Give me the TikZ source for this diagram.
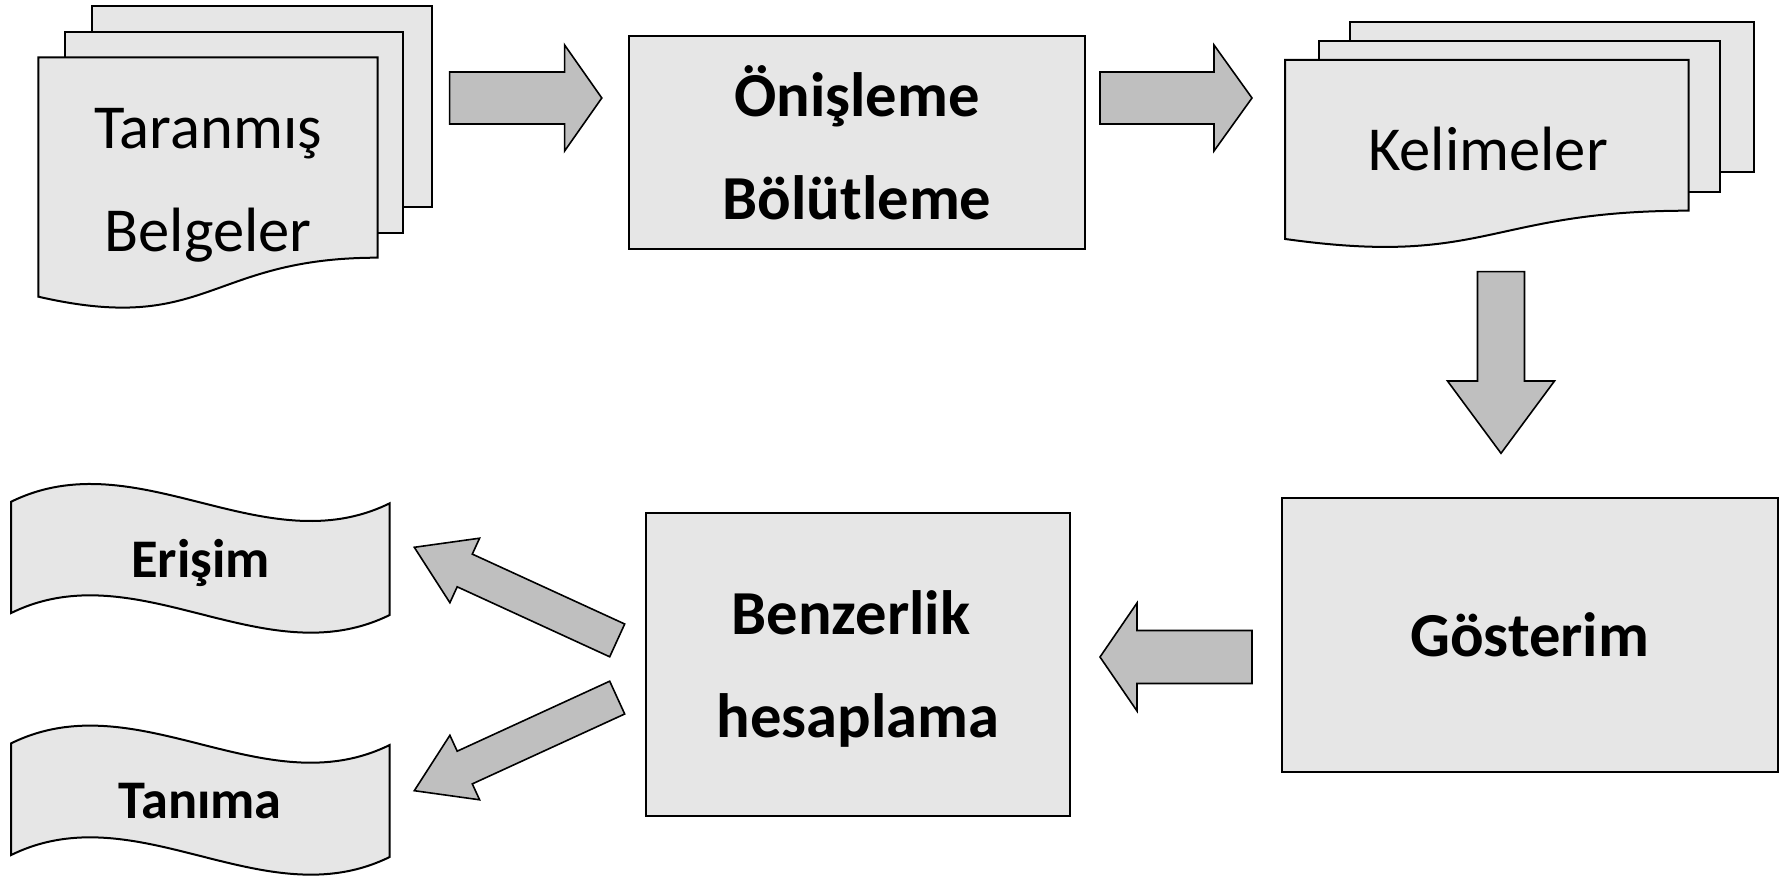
\documentclass[tikz,border=0pt]{standalone}
\usepackage{fontspec}
\setmainfont{Carlito}
\definecolor{boxgray}{RGB}{230,230,230}
\definecolor{arrowgray}{RGB}{191,191,191}
\newcommand{\bigreg}{\fontsize{31.3}{51.5}\selectfont}
\newcommand{\bigbold}{\fontsize{31.3}{51.5}\selectfont\bfseries}
\newcommand{\bannerbold}{\fontsize{27.2}{32}\selectfont\bfseries}
\tikzset{
  boxfill/.style={fill=boxgray, draw=black, line width=1pt, line join=miter},
  blockarrow/.style={fill=arrowgray, draw=black, line width=0.8pt, line join=miter},
  procbox/.style={boxfill, rectangle, inner sep=0pt, align=center, font=\bigbold},
  doctext/.style={inner sep=0pt, align=center, font=\bigreg},
  bannertext/.style={inner sep=0pt, align=center, font=\bannerbold},
}
\begin{document}
\begin{tikzpicture}[x=0.5pt, y=-0.5pt]
\useasboundingbox (0,0) rectangle (1785,876);

% ---- stack 1: Taranmis Belgeler
\draw[boxfill] (91.7,5.7) rectangle (431.8,207);
\draw[boxfill] (65.2,31.7) rectangle (403.3,232.7);
\draw[boxfill] (38.4,57.3) -- (377.6,57.3) -- (377.6,257.7)
  .. controls (208,257.7) and (208,335.7) .. (38.4,296.7) -- cycle;
\node[doctext] (scan) at (208,185) {Taranmış\\Belgeler};

% ---- arrow 1
\draw[blockarrow] (601.8,98) -- (564.6,45) -- (564.6,72) -- (449.6,72)
  -- (449.6,124) -- (564.6,124) -- (564.6,151) -- cycle;

% ---- box 1
\node[procbox, minimum width=227.55pt, minimum height=106.15pt] (pre) at (857,142.5) {Önişleme\\Bölütleme};

% ---- arrow 2
\draw[blockarrow] (1252,98) -- (1214,45) -- (1214,72) -- (1100,72)
  -- (1100,124) -- (1214,124) -- (1214,151) -- cycle;

% ---- stack 2: Kelimeler
\draw[boxfill] (1349.8,21.7) rectangle (1753.7,172.3);
\draw[boxfill] (1319.2,41) rectangle (1719.7,191.7);
\draw[boxfill] (1285.2,60) -- (1688.7,60) -- (1688.7,210.7)
  .. controls (1487,210.7) and (1487,267.3) .. (1285.2,239) -- cycle;
\node[doctext] (words) at (1488,149) {Kelimeler};

% ---- down arrow
\draw[blockarrow] (1501,453.3) -- (1554.5,381) -- (1524.5,381) -- (1524.5,271.7)
  -- (1477.5,271.7) -- (1477.5,381) -- (1447.5,381) -- cycle;

% ---- Gosterim box
\node[procbox, minimum width=248pt, minimum height=136.85pt] (rep) at (1529.7,635.15) {Gösterim};

% ---- left arrow
\draw[blockarrow] (1100,657) -- (1137,603) -- (1137,630.5) -- (1252,630.5)
  -- (1252,683.5) -- (1137,683.5) -- (1137,711) -- cycle;

% ---- Benzerlik box
\node[procbox, text depth=0pt, minimum width=212pt, minimum height=151.2pt] (sim) at (858,664.5) {Benzerlik\hspace*{7pt}\\hesaplama};

% ---- diagonal arrows
\draw[blockarrow] (414.3,547.3) -- (479.6,538.2) -- (472.3,554.1) -- (624.7,624.0)
  -- (609.7,656.8) -- (457.2,586.8) -- (449.9,602.7) -- cycle;
\draw[blockarrow] (414.3,790.7) -- (449.9,735.3) -- (457.2,751.2) -- (609.7,681.2)
  -- (624.7,714.0) -- (472.3,783.9) -- (479.6,799.8) -- cycle;

% ---- banners
\draw[boxfill] (11.2,501.7) .. controls (137.4,439.7) and (263.5,565.3) .. (389.7,503.3)
  -- (389.7,615) .. controls (263.5,677) and (137.4,551) .. (11.2,613) -- cycle;
\node[bannertext] (ret) at (200.5,563) {Erişim};

\draw[boxfill] (11.2,743.3) .. controls (137.4,681.3) and (263.5,807) .. (389.7,745)
  -- (389.7,857) .. controls (263.5,919) and (137.4,793) .. (11.2,855) -- cycle;
\node[bannertext] (rec) at (200,801) {Tanıma};
\end{tikzpicture}
\end{document}
